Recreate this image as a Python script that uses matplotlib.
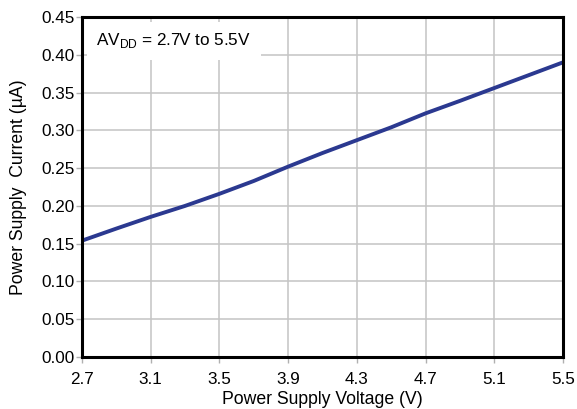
import matplotlib.pyplot as plt
import numpy as np

plt.rcParams['font.family'] = ['Liberation Sans', 'DejaVu Sans']
plt.rcParams['mathtext.fontset'] = 'custom'
plt.rcParams['mathtext.rm'] = 'Liberation Sans'

# Curve
voltage = [2.7, 2.9, 3.1, 3.3, 3.5, 3.7, 3.9, 4.1, 4.3, 4.5, 4.7, 4.9, 5.1, 5.3, 5.5]
current = [0.154, 0.170, 0.1855, 0.200, 0.216, 0.233, 0.252, 0.270, 0.287, 0.304, 0.3225, 0.339, 0.356, 0.373, 0.390]

x_ticks = [2.7, 3.1, 3.5, 3.9, 4.3, 4.7, 5.1, 5.5]
y_ticks = np.arange(0, 0.451, 0.05)

fig = plt.figure(figsize=(5.77, 4.09), dpi=100)
ax = fig.add_axes([0.1421, 0.1271, 0.8336, 0.8313])

ax.plot(voltage, current, color='#2b3990', lw=2.8, solid_capstyle='butt', zorder=3)

ax.set_xlim(2.7, 5.5)
ax.set_ylim(0, 0.45)
ax.set_xticks(x_ticks)
ax.set_xticklabels([f"{v:.1f}" for v in x_ticks])
ax.set_yticks(y_ticks)
ax.set_yticklabels([f"{v:.2f}" for v in y_ticks])
ax.tick_params(axis='both', labelsize=12.3, color='#b0b0b0', length=4, width=1)
ax.tick_params(axis='x', pad=7)
ax.tick_params(axis='y', pad=1)

ax.grid(True, color='#c4c4c4', lw=1.1, zorder=0)
for s in ax.spines.values():
    s.set_linewidth(2.2)
    s.set_color('black')
    s.set_zorder(4)

ax.set_xlabel('Power Supply Voltage (V)', fontsize=12.7, labelpad=2.5)
ax.set_ylabel('Power Supply  Current (µA)', fontsize=12.7, labelpad=11)

ax.text(0.03, 0.93, r'AV$_{\mathregular{DD}}$ = 2.7V to 5.5V', transform=ax.transAxes,
        fontsize=12.3, va='center', ha='left', zorder=5,
        bbox=dict(facecolor='white', edgecolor='none', pad=7))

fig.savefig('out.png', dpi=100)
